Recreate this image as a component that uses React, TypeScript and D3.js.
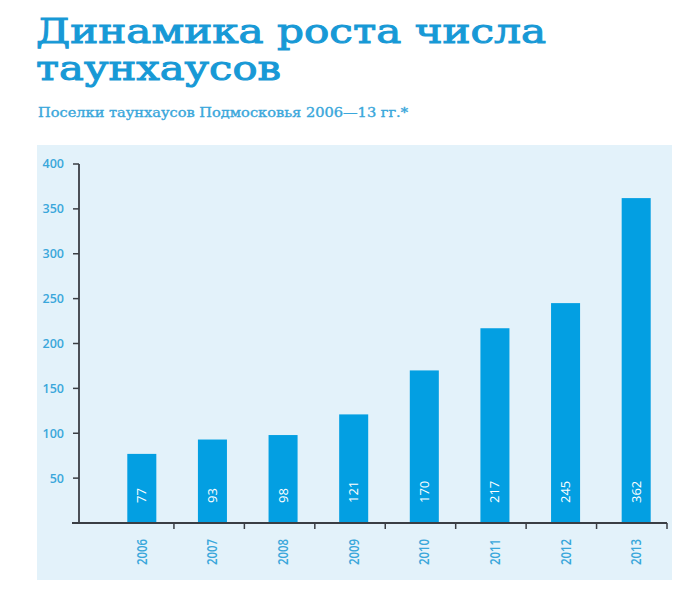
import React from "react";
import * as d3 from "d3";

const years = ["2006", "2007", "2008", "2009", "2010", "2011", "2012", "2013"];
const counts = [77, 93, 98, 121, 170, 217, 245, 362];
const yTicks = [50, 100, 150, 200, 250, 300, 350, 400];

const titleLines = ["Динамика роста числа", "таунхаусов"];
const subtitle = "Поселки таунхаусов Подмосковья 2006—13 гг.*";

const W = 700;
const H = 600;
const BLUE = "#1799d6";
const BAR = "#039fe2";
const LABEL = "#3aa7db";
const AXIS = "#3a3e44";
const PANEL = "#e3f2fa";

export default function App() {
  const x = d3.scaleBand<string>().domain(years).range([106.5, 671.5]).paddingInner(0.589).paddingOuter(0.2945);
  const y = d3.scaleLinear().domain([0, 400]).range([523, 164]);
  const tickX = d3.scaleLinear().domain([0, years.length]).range([103.5, 667]);
  const y0 = y(0);

  return (
    <svg width={W} height={H} style={{ position: "absolute", left: 0, top: 0, background: "#fff" }}>
      <text x={36} y={43} fill={BLUE} stroke={BLUE} strokeWidth={1} fontFamily="DejaVu Serif" fontSize={34} textLength={510} lengthAdjust="spacingAndGlyphs">
        {titleLines[0]}
      </text>
      <text x={36} y={80} fill={BLUE} stroke={BLUE} strokeWidth={1} fontFamily="DejaVu Serif" fontSize={34} textLength={245} lengthAdjust="spacingAndGlyphs">
        {titleLines[1]}
      </text>
      <text x={38} y={117} fill={LABEL} stroke={LABEL} strokeWidth={0.35} fontFamily="DejaVu Serif" fontSize={12} textLength={370} lengthAdjust="spacingAndGlyphs">
        {subtitle}
      </text>

      <rect x={37} y={145} width={635} height={435} fill={PANEL} />

      {years.map((yr, i) => (
        <rect key={yr} x={x(yr)} y={y(counts[i])} width={x.bandwidth()} height={y0 - y(counts[i])} fill={BAR} />
      ))}

      {years.map((yr, i) => {
        const cx = (x(yr) as number) + x.bandwidth() / 2;
        return (
          <text
            key={"v" + yr}
            transform={`translate(${cx + 4.5},${y0 - 20}) rotate(-90)`}
            fill="#fff"
            fontFamily="Open Sans"
            fontWeight={500}
            fontSize={13}
            textAnchor="start"
          >
            {counts[i]}
          </text>
        );
      })}

      {years.map((yr) => {
        const cx = (x(yr) as number) + x.bandwidth() / 2;
        return (
          <text
            key={"y" + yr}
            transform={`translate(${cx + 5},${y0 + 16}) rotate(-90)`}
            fill={LABEL}
            fontFamily="Open Sans"
            fontWeight={600}
            fontSize={14}
            textAnchor="end"
            textLength={26}
            lengthAdjust="spacingAndGlyphs"
          >
            {yr}
          </text>
        );
      })}

      {/* y axis */}
      <line x1={79} x2={79} y1={y(400)} y2={y0} stroke={AXIS} strokeWidth={1.8} />
      {yTicks.map((t) => (
        <g key={"t" + t}>
          <line x1={73} x2={79} y1={y(t)} y2={y(t)} stroke={AXIS} strokeWidth={1.5} />
          <text x={64} y={y(t)} dy="0.35em" fill={LABEL} fontFamily="Open Sans" fontWeight={600} fontSize={12.5} textAnchor="end">
            {t}
          </text>
        </g>
      ))}

      {/* x axis */}
      <line x1={72} x2={tickX(years.length)} y1={y0} y2={y0} stroke={AXIS} strokeWidth={1.8} />
      {d3.range(1, years.length + 1).map((i) => (
        <line key={"xt" + i} x1={tickX(i)} x2={tickX(i)} y1={y0} y2={y0 + 6} stroke={AXIS} strokeWidth={1.5} />
      ))}
    </svg>
  );
}
